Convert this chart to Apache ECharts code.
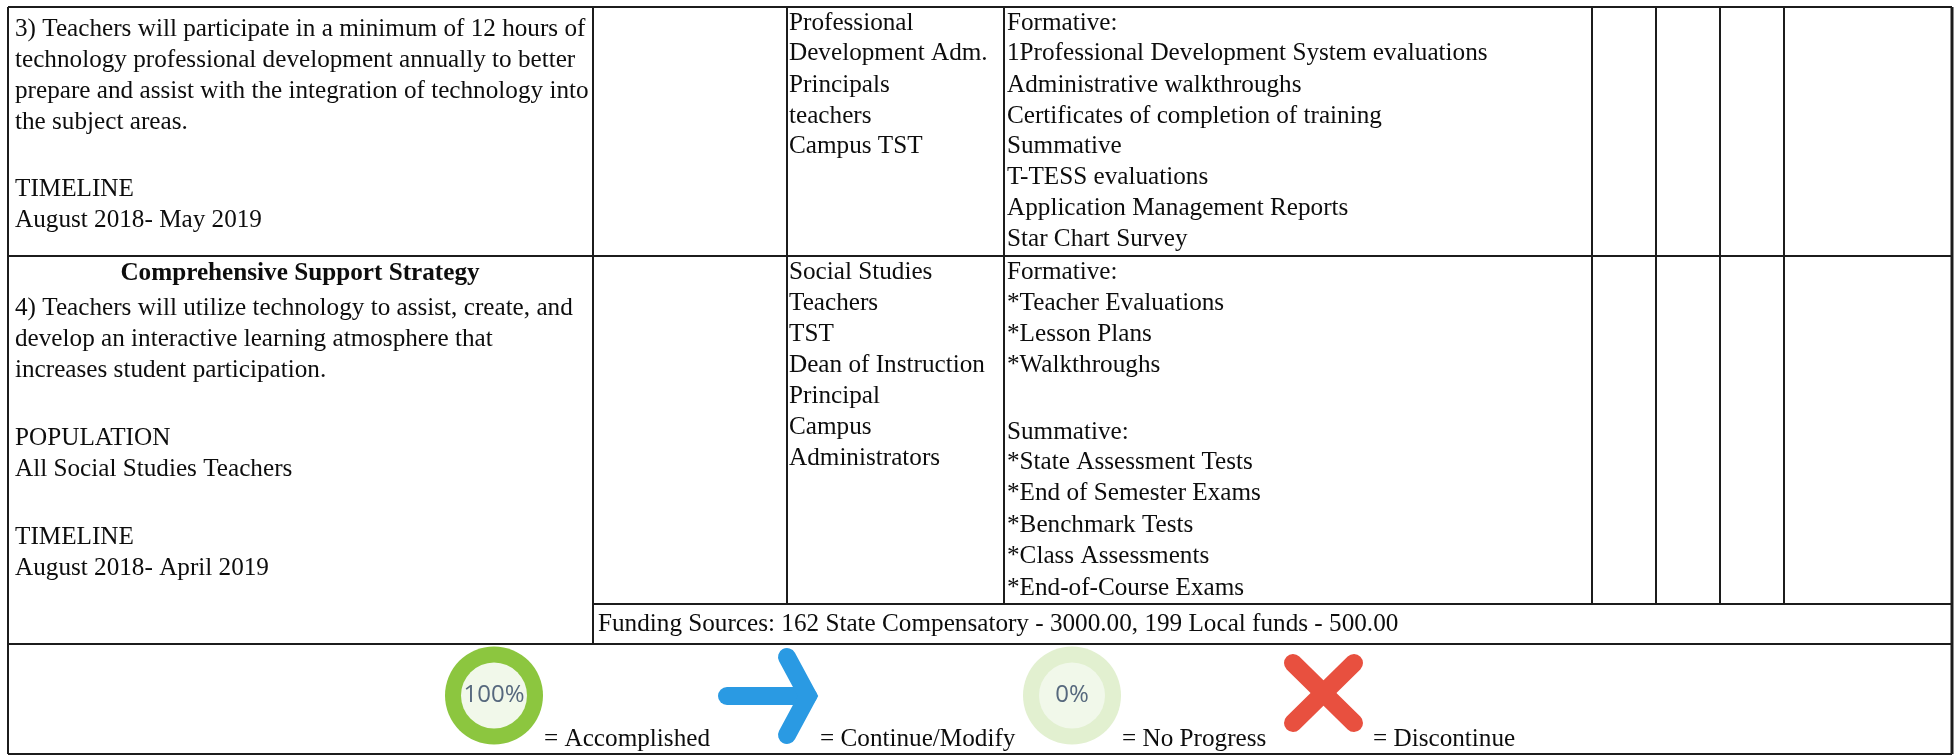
<!DOCTYPE html>
<html lang="en">
<head>
  <meta charset="UTF-8">
  <title>Strategy table</title>
  <script src="https://cdn.jsdelivr.net/npm/echarts/dist/echarts.min.js"></script>
  <style>html,body{margin:0;padding:0;background:#fff}</style>
</head>
<body>
<div id="chart" style="width:1959px;height:756px;"></div>
<script>
// cell text, one entry per printed line
const strategyText = [
  '3) Teachers will participate in a minimum of 12 hours of',
  'technology professional development annually to better',
  'prepare and assist with the integration of technology into',
  'the subject areas.',
  'TIMELINE',
  'August 2018- May 2019',
  '4) Teachers will utilize technology to assist, create, and',
  'develop an interactive learning atmosphere that',
  'increases student participation.',
  'POPULATION',
  'All Social Studies Teachers',
  'TIMELINE',
  'August 2018- April 2019'
];
const strategyY = [29, 60, 91, 122, 189, 220, 308, 339, 370, 438, 469, 537, 568];
const strategyHeading = 'Comprehensive Support Strategy';
const responsibleText = [
  'Professional', 'Development Adm.', 'Principals', 'teachers', 'Campus TST',
  'Social Studies', 'Teachers', 'TST', 'Dean of Instruction', 'Principal', 'Campus', 'Administrators'
];
const responsibleY = [23, 53, 85, 116, 146, 272, 303, 334, 365, 396, 427, 458];
const evidenceText = [
  'Formative:', '1Professional Development System evaluations', 'Administrative walkthroughs',
  'Certificates of completion of training', 'Summative', 'T-TESS evaluations',
  'Application Management Reports', 'Star Chart Survey',
  'Formative:', '*Teacher Evaluations', '*Lesson Plans', '*Walkthroughs',
  'Summative:', '*State Assessment Tests', '*End of Semester Exams', '*Benchmark Tests',
  '*Class Assessments', '*End-of-Course Exams'
];
const evidenceY = [23, 53, 85, 116, 146, 177, 208, 239, 272, 303, 334, 365, 432, 462, 493, 525, 556, 588];
const fundingText = 'Funding Sources: 162 State Compensatory - 3000.00, 199 Local funds - 500.00';
const legendText = ['= Accomplished', '= Continue/Modify', '= No Progress', '= Discontinue'];
const legendX = [544, 820, 1122, 1373];
const ringText = ['100%', '0%'];
const ringX = [494, 1072];

// table rules
const columnEdges = [8, 593, 787, 1004, 1592, 1656, 1720, 1784, 1952];
const rowEdges = [7, 256, 604, 644, 754];

const W = 1959, H = 756;
const serif = '"Liberation Serif", "Times New Roman", serif';

function pairs(xs, ys) { return xs.map((x, i) => [x, ys[i]]); }

// vertical rule: [column index, top row index, bottom row index]
const verticalRules = [
  [0, 0, 4], [8, 0, 4], [1, 0, 3], [2, 0, 2], [3, 0, 2], [4, 0, 2], [5, 0, 2], [6, 0, 2], [7, 0, 2]
];
// horizontal rule: [row index, left column index]
const horizontalRules = [[0, 0], [1, 0], [2, 1], [3, 0], [4, 0]];

function textSeries(name, x, ys, lines, fontWeight, align) {
  return {
    type: 'custom', name: name, coordinateSystem: 'cartesian2d', silent: true,
    data: lines.map((t, i) => [Array.isArray(x) ? x[i] : x, ys[i], t]),
    renderItem: (params, api) => {
      const p = api.coord([api.value(0), api.value(1)]);
      return {
        type: 'text',
        style: {
          x: p[0], y: p[1], text: lines[params.dataIndex],
          font: (fontWeight || 'normal') + ' 25.2px ' + serif,
          fill: '#0d0d0d', align: align || 'left', verticalAlign: 'middle'
        }
      };
    }
  };
}

const option = {
  animation: false,
  backgroundColor: '#fff',
  grid: { left: 0, right: 0, top: 0, bottom: 0 },
  xAxis: { type: 'value', min: 0, max: W, show: false },
  yAxis: { type: 'value', min: 0, max: H, inverse: true, show: false },
  series: [
    {
      type: 'custom', name: 'rules', silent: true,
      data: verticalRules.map(r => [columnEdges[r[0]], rowEdges[r[1]], columnEdges[r[0]], rowEdges[r[2]]])
        .concat(horizontalRules.map(r => [columnEdges[r[1]], rowEdges[r[0]], columnEdges[8], rowEdges[r[0]]])),
      renderItem: (params, api) => {
        const a = api.coord([api.value(0), api.value(1)]);
        const b = api.coord([api.value(2), api.value(3)]);
        // right edge of the table prints heavier
        const heavy = params.dataIndex === 1;
        return {
          type: 'line',
          shape: { x1: a[0], y1: a[1], x2: b[0], y2: b[1] },
          style: { stroke: '#1c1c1c', lineWidth: heavy ? 3 : 2 }
        };
      }
    },
    textSeries('strategy', 15, strategyY, strategyText),
    textSeries('heading', 300, [273], [strategyHeading], 'bold', 'center'),
    textSeries('responsible', 789, responsibleY, responsibleText),
    textSeries('evidence', 1007, evidenceY, evidenceText),
    textSeries('funding', 598, [624], [fundingText]),
    textSeries('legend', legendX, legendX.map(() => 739), legendText),
    {
      type: 'custom', name: 'rings', silent: true,
      data: pairs(ringX, ringX.map(() => 695.5)),
      renderItem: (params, api) => {
        const c = api.coord([api.value(0), api.value(1)]);
        const full = params.dataIndex === 0;
        return {
          type: 'group',
          children: [
            { type: 'circle', shape: { cx: c[0], cy: c[1], r: 49 }, style: { fill: full ? '#8cc63f' : '#e2f0d0' } },
            { type: 'circle', shape: { cx: c[0], cy: c[1], r: 33 }, style: { fill: '#f1f8ea' } },
            { type: 'text', style: {
              x: c[0], y: c[1], text: ringText[params.dataIndex],
              font: '24px "Open Sans", sans-serif', fill: '#56687d', align: 'center', verticalAlign: 'middle'
            } }
          ]
        };
      }
    },
    {
      type: 'custom', name: 'arrow', silent: true,
      data: [[727, 696]],
      renderItem: (params, api) => {
        const tail = api.coord([727, 696]);
        const tip = api.coord([808, 696]);
        const top = api.coord([787, 657]);
        const bottom = api.coord([787, 735]);
        const style = { stroke: '#2a9ae3', lineWidth: 18, lineCap: 'round', lineJoin: 'miter', miterLimit: 4, fill: null };
        return {
          type: 'group',
          children: [
            { type: 'polyline', shape: { points: [tail, tip] }, style: style },
            { type: 'polyline', shape: { points: [top, tip, bottom] }, style: style }
          ]
        };
      }
    },
    {
      type: 'custom', name: 'cross', silent: true,
      data: [[1323.5, 693]],
      renderItem: (params, api) => {
        const style = { stroke: '#e8503f', lineWidth: 18, lineCap: 'round', fill: null };
        const seg = (x1, y1, x2, y2) => ({
          type: 'polyline',
          shape: { points: [api.coord([x1, y1]), api.coord([x2, y2])] },
          style: style
        });
        return {
          type: 'group',
          children: [seg(1293, 663, 1354, 723), seg(1354, 663, 1293, 723)]
        };
      }
    }
  ]
};

echarts.init(document.getElementById('chart')).setOption(option);
</script>
</body>
</html>
